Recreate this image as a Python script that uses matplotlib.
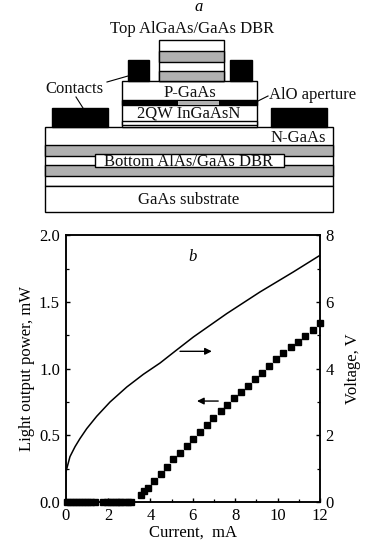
"""VCSEL structure schematic (a) and light/voltage vs current curves (b)."""

import matplotlib as mpl
import matplotlib.pyplot as plt
from matplotlib.patches import Rectangle

mpl.use("Agg")  # Non-interactive backend

plt.rcParams["font.family"] = ["Liberation Serif", "DejaVu Serif"]

W, H = 365, 543

# Light output power (squares)
current_sq = [0.06, 0.2, 0.34, 0.48, 0.62, 0.76, 0.9, 1.04, 1.2, 1.37,
              1.79, 1.94, 2.08, 2.22, 2.36, 2.5, 2.64, 2.8, 2.94, 3.08,
              3.58, 3.7, 3.87, 4.18, 4.48, 4.78, 5.09, 5.40, 5.71, 6.02,
              6.34, 6.65, 6.97, 7.31, 7.62, 7.95, 8.28, 8.61, 8.93, 9.27,
              9.61, 9.94, 10.27, 10.62, 10.96, 11.30, 11.66, 12.0]
power = [0.0, 0.0, 0.0, 0.0, 0.0, 0.0, 0.0, 0.0, 0.0, 0.0,
         0.0, 0.0, 0.0, 0.0, 0.0, 0.0, 0.0, 0.0, 0.0, 0.0,
         0.05, 0.08, 0.105, 0.16, 0.21, 0.26, 0.32, 0.37, 0.42, 0.47,
         0.525, 0.58, 0.63, 0.68, 0.73, 0.78, 0.825, 0.87, 0.92, 0.97,
         1.02, 1.07, 1.12, 1.16, 1.20, 1.245, 1.29, 1.34]

# Voltage (solid line)
current_v = [0.0, 0.0, 0.01, 0.06, 0.21, 0.45, 0.68, 1.0, 1.47, 2.1, 2.89,
             3.67, 4.46, 5.2, 6.03, 7.6, 9.17, 10.74, 12.0]
voltage = [0.0, 0.5, 0.86, 1.0, 1.36, 1.66, 1.9, 2.2, 2.57, 3.0, 3.45,
           3.83, 4.17, 4.54, 4.95, 5.65, 6.3, 6.9, 7.4]

x_ticks = [0, 2, 4, 6, 8, 10, 12]
x_minor = [1, 3, 5, 7, 9, 11]
power_ticks = [0.0, 0.5, 1.0, 1.5, 2.0]
power_minor = [0.25, 0.75, 1.25, 1.75]
volt_ticks = [0, 2, 4, 6, 8]
volt_minor = [1, 3, 5, 7]

# Schematic layers: (x0, y0, x1, y1, fill), in pixels of the figure
GRAY = "#b0b0b0"
layers = [
    (45, 127, 333, 186, "white"),
    (45, 145, 333, 156, GRAY),
    (45, 165, 333, 176, GRAY),
    (45, 186, 333, 212, "white"),
    (95, 154, 284, 167, "white"),
    (122, 81, 257, 127, "white"),
    (122, 100, 257, 105, "black"),
    (122, 120.5, 257, 125, "white"),
    (159, 40, 224, 81, "white"),
    (159, 51, 224, 62, GRAY),
    (159, 71, 224, 81, GRAY),
    (128, 60, 149, 81, "black"),
    (230, 60, 252, 81, "black"),
    (52, 108, 108, 127, "black"),
    (271, 108, 327, 127, "black"),
]
aperture = (178, 100.5, 219, 104.5)
labels = [
    ("Top AlGaAs/GaAs DBR", 192, 33, "center"),
    ("Contacts", 74, 93, "center"),
    ("P-GaAs", 190, 97, "center"),
    ("AlO aperture", 269, 99, "left"),
    ("2QW InGaAsN", 189, 118, "center"),
    ("N-GaAs", 326, 142, "right"),
    ("Bottom AlAs/GaAs DBR", 189, 166, "center"),
    ("GaAs substrate", 189, 204, "center"),
]
leaders = [
    ((107, 128), (82, 76)),
    ((76, 83), (97, 108)),
    ((258, 268), (101, 96)),
]

fig = plt.figure(figsize=(W / 100, H / 100), dpi=100)

# Part a
sk = fig.add_axes([0, 0, 1, 1])
sk.set_xlim(0, W)
sk.set_ylim(H, 0)
sk.axis("off")
for x0, y0, x1, y1, fill in layers:
    sk.add_patch(Rectangle((x0, y0), x1 - x0, y1 - y0, facecolor=fill,
                           edgecolor="black", linewidth=1.0))
sk.add_patch(Rectangle((aperture[0], aperture[1]), aperture[2] - aperture[0],
                       aperture[3] - aperture[1], facecolor=GRAY, edgecolor="none"))
for text, x, y, ha in labels:
    sk.text(x, y, text, fontsize=12, ha=ha, va="baseline", color="#111111")
for xs, ys in leaders:
    sk.plot(xs, ys, color="black", linewidth=0.8)
sk.text(199, 11, "a", fontsize=12, style="italic", ha="center", va="baseline")

# Part b
left, right, top, bottom = 65.5, 320, 235.3, 502
ax = fig.add_axes([left / W, 1 - bottom / H, (right - left) / W, (bottom - top) / H])
ax.plot(current_sq, power, linestyle="none", marker="s", markersize=5.0,
        color="black", clip_on=False, zorder=5)
ax.set_xlim(0, 12)
ax.set_ylim(0, 2)
ax.set_xticks(x_ticks)
ax.set_xticks(x_minor, minor=True)
ax.set_yticks(power_ticks)
ax.set_yticks(power_minor, minor=True)
ax.set_yticklabels([f"{v:.1f}" for v in power_ticks])
ax.set_xlabel("Current,  mA", fontsize=12, labelpad=1)
ax.set_ylabel("Light output power, mW", fontsize=12, labelpad=3)

ax2 = ax.twinx()
ax2.plot(current_v, voltage, color="black", linewidth=1.1)
ax2.set_ylim(0, 8)
ax2.set_yticks(volt_ticks)
ax2.set_yticks(volt_minor, minor=True)
ax2.set_ylabel("Voltage, V", fontsize=12, labelpad=8)

for a in (ax, ax2):
    a.tick_params(which="major", direction="in", length=3.2, width=1.0,
                  labelsize=12, pad=4)
    a.tick_params(which="minor", direction="in", length=2, width=0.9)
    for spine in a.spines.values():
        spine.set_linewidth(1.1)

ax.annotate("", xy=(6.9, 1.13), xytext=(5.4, 1.13),
            arrowprops=dict(arrowstyle="-|>", color="black", lw=1.0, shrinkA=0, shrinkB=0))
ax.annotate("", xy=(6.2, 0.757), xytext=(7.2, 0.757),
            arrowprops=dict(arrowstyle="-|>", color="black", lw=1.0, shrinkA=0, shrinkB=0))
ax.text(6.0, 1.84, "b", fontsize=12, style="italic", ha="center", va="center")

plt.savefig("out.png", dpi=100)
plt.close(fig)
